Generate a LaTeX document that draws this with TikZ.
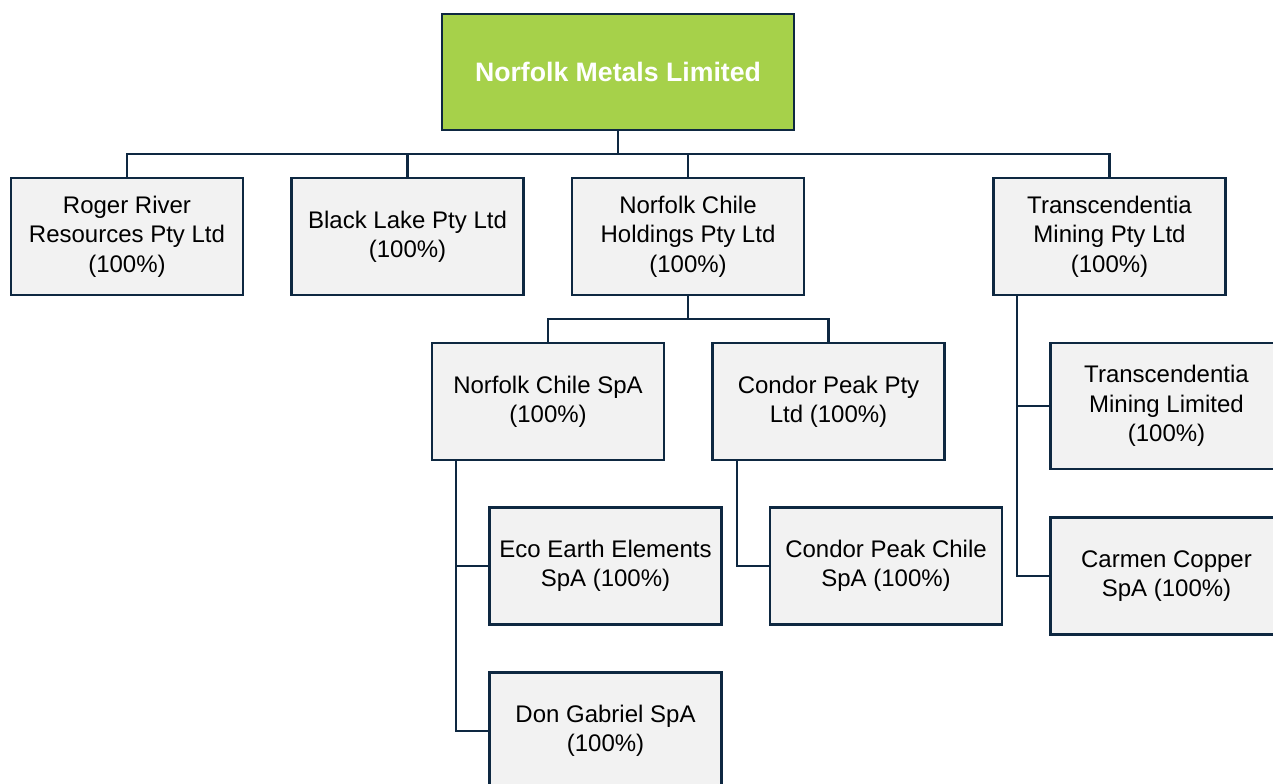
\documentclass[tikz,border=0pt]{standalone}
\usepackage{fontspec}
\setmainfont{Liberation Sans}
\definecolor{navy}{HTML}{0E2841}
\definecolor{boxgray}{HTML}{F2F2F2}
\definecolor{limegreen}{HTML}{A6D14A}
\begin{document}
\begin{tikzpicture}[x=0.75pt,y=-0.75pt,
  box/.style={draw=navy, fill=boxgray, line width=1.9pt, minimum width=174pt, minimum height=87.75pt,
    align=center, inner sep=0pt, font=\fontsize{18}{22}\selectfont, text=black},
  topbox/.style={draw=navy, fill=limegreen, line width=1.9pt, minimum width=264pt, minimum height=87pt,
    align=center, inner sep=0pt, font=\fontsize{20}{24}\selectfont\bfseries, text=white},
  conn/.style={draw=navy, line width=1.8pt}]
\useasboundingbox (0,0) rectangle (1273,783);
\clip (0,0) rectangle (1273,783);
\fill[white] (0,0) rectangle (1273,783);

\node[topbox] (top) at (618,72) {Norfolk Metals Limited};

\node[box] (rr)  at (127,236.5)  {Roger River\\Resources Pty Ltd\\(100\%)};
\node[box] (bl)  at (407.5,236.5) {Black Lake Pty Ltd\\(100\%)};
\node[box] (nch) at (688,236.5)  {Norfolk Chile\\Holdings Pty Ltd\\(100\%)};
\node[box] (tmp) at (1109.5,236.5) {Transcendentia\\Mining Pty Ltd\\(100\%)};

\node[box] (ncs) at (548,401.5) {Norfolk Chile SpA\\(100\%)};
\node[box] (cpp) at (828.5,401.5) {Condor Peak Pty\\Ltd (100\%)};

\node[box, minimum height=94.5pt] (tml) at (1166.5,406) {Transcendentia\\Mining Limited\\(100\%)};
\node[box] (cc)  at (1166.5,576) {Carmen Copper\\SpA (100\%)};

\node[box] (eco) at (605.5,566) {Eco Earth Elements\\SpA (100\%)};
\node[box] (cpc) at (886,566) {Condor Peak Chile\\SpA (100\%)};
\node[box] (dg)  at (605.5,731) {Don Gabriel SpA\\(100\%)};

% level 1 connectors
\coordinate (b) at (618,154);
\draw[conn] (top.south) -- (b);
\draw[conn] (rr.north) |- (b) -| (tmp.north);
\draw[conn] (bl.north) -- (bl.north |- b);
\draw[conn] (nch.north) -- (nch.north |- b);

% Norfolk Chile Holdings children
\coordinate (c) at (688,319);
\draw[conn] (nch.south) -- (c);
\draw[conn] (ncs.north) |- (c) -| (cpp.north);

% Transcendentia children
\coordinate (tv) at (1017,295);
\draw[conn] (tv) |- (cc.west);
\draw[conn] (tml.west) -- (tml.west -| tv);

% Norfolk Chile SpA children
\coordinate (nv) at (456,460);
\draw[conn] (nv) |- (dg.west);
\draw[conn] (eco.west) -- (eco.west -| nv);

% Condor Peak children
\coordinate (cv) at (737,460);
\draw[conn] (cv) |- (cpc.west);
\end{tikzpicture}
\end{document}
